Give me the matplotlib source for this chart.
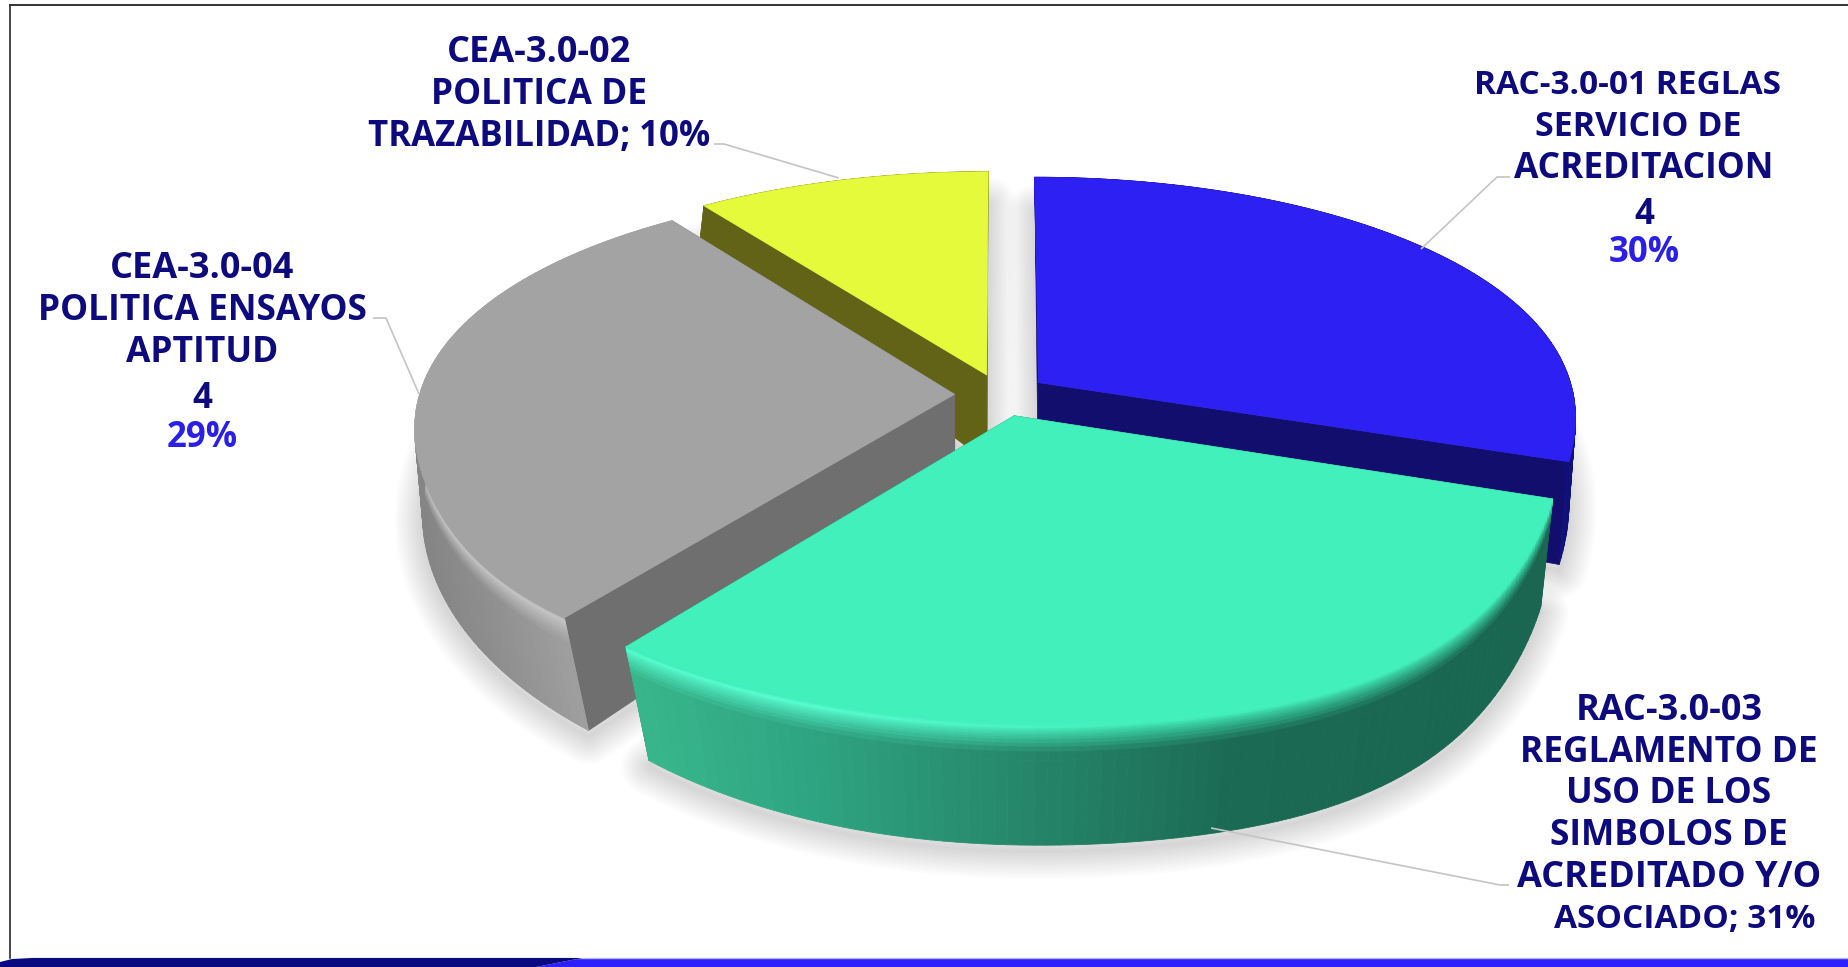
import numpy as np
import matplotlib
matplotlib.use("Agg")
import matplotlib.pyplot as plt
from matplotlib.collections import PolyCollection
from matplotlib.colors import to_rgb

plt.rcParams['font.family'] = ['Open Sans', 'DejaVu Sans']

categories = ["RAC-3.0-01 REGLAS SERVICIO DE ACREDITACION",
              "RAC-3.0-03 REGLAMENTO DE USO DE LOS SIMBOLOS DE ACREDITADO Y/O ASOCIADO",
              "CEA-3.0-04 POLITICA ENSAYOS APTITUD",
              "CEA-3.0-02 POLITICA DE TRAZABILIDAD"]
values = [30, 31, 29, 10]

top_colors = ["#2c20f2", "#42f0bb", "#a3a3a3", "#e6fa3c"]
wall_colors = ["#120e6e", "#1c6e55", "#6f6f6f", "#636318"]
rim_colors = ["#3a30ff", "#58ffd2", "#c6c6c6", "#eeff70"]
side_stops = [
    ([1400, 1580], ["#10107a", "#10107a"]),
    ([640, 800, 1000, 1240, 1560], ["#38b58b", "#2fa582", "#278a6c", "#1b6a53", "#1a6650"]),
    ([420, 480, 580], ["#858585", "#8f8f8f", "#a2a2a2"]),
    ([680, 980], ["#636318", "#636318"]),
]

# label lines: text, x, y, colour key, font size
label_lines = [
    ("CEA-3.0-02", 539, 53, "n", 26), ("POLITICA DE", 539, 95, "n", 25.5), ("TRAZABILIDAD; 10%", 539, 137, "n", 25),
    ("CEA-3.0-04", 202, 269, "n", 26), ("POLITICA ENSAYOS", 202, 311, "n", 25.5), ("APTITUD", 202, 353, "n", 25.5),
    ("4", 202, 399, "n", 25), ("29%", 202, 438, "b", 25),
    ("RAC-3.0-01 REGLAS", 1627, 85, "n", 24), ("SERVICIO DE", 1638, 127, "n", 24.5), ("ACREDITACION", 1644, 169, "n", 25.5),
    ("4", 1644, 215, "n", 25), ("30%", 1644, 253, "b", 25),
    ("RAC-3.0-03", 1669, 711, "n", 26), ("REGLAMENTO DE", 1669, 753, "n", 25.5), ("USO DE LOS", 1669, 794, "n", 25.5),
    ("SIMBOLOS DE", 1669, 836, "n", 25.5), ("ACREDITADO Y/O", 1669, 878, "n", 26), ("ASOCIADO; 31%", 1685, 919, "n", 24),
]
leaders = [
    ([1510, 1497, 1421], [177, 177, 249]),
    ([1509, 1500, 1211], [885, 885, 828]),
    ([373, 386, 419], [318, 318, 394]),
    ([714, 724, 839], [144, 144, 178]),
]

CX = 1001
TOP = dict(cy=395, A=535, B=245, k=0.1735, kx=0.12)
BOT = dict(cy=486, A=530, B=294, k=0.10, kx=0.09)
EXPLODE = 0.087


def proj(X, Y, p):
    s = 1 / (1 - p['k'] * Y)
    sx = 1 / (1 - p['kx'] * Y)
    return CX + p['A'] * X * sx, p['cy'] + p['B'] * Y * s


fig = plt.figure(figsize=(18.49, 9.67), dpi=100, facecolor="white")
ax = fig.add_axes([0, 0, 1, 1])
ax.set_xlim(0, 1849)
ax.set_ylim(967, 0)
ax.axis("off")

fracs = np.array(values) / sum(values)
ends = 90 - 360 * np.cumsum(fracs)
starts = ends + 360 * fracs

geo = []
for st, en in zip(starts, ends):
    mid = np.radians((st + en) / 2)
    ex, ey = EXPLODE * np.cos(mid), -EXPLODE * np.sin(mid)
    deg = np.linspace(st, en, 90)
    th = np.radians(deg)
    # the reference's disc is slightly rounder than a true ellipse at the front
    wrapped = (deg + 180) % 360 - 180
    r_bot = 1 + 0.055 * np.exp(-((wrapped + 52) / 24) ** 2)
    r_top = r_bot + 0.025 * np.exp(-((wrapped + 135) / 20) ** 2)
    geo.append((ex, ey,
                ex + r_top * np.cos(th), ey - r_top * np.sin(th),
                ex + r_bot * np.cos(th), ey - r_bot * np.sin(th)))

# soft shadows
for ex, ey, _, _, bx_, by_ in geo:
    bx, by = proj(np.r_[ex, bx_], np.r_[ey, by_], BOT)
    for lw in range(40, 0, -3):
        ax.fill(bx, by + 6, facecolor="none", edgecolor=(0, 0, 0, 0.011), lw=lw,
                joinstyle="round", zorder=1)

# painter's order: back to front
order = [3, 0, 2, 1]
z = 2
tv = np.r_[0, .012, .025, .04, .055, .07, .09, .11, .13, .16, .19, .23, .30, 1.0]
for i in order:
    ex, ey, ox, oy, ux, uy = geo[i]
    # radial walls
    for j in (0, -1):
        tx, ty = proj(np.array([ex, ox[j]]), np.array([ey, oy[j]]), TOP)
        bx, by = proj(np.array([ex, ux[j]]), np.array([ey, uy[j]]), BOT)
        ax.fill(np.r_[tx, bx[::-1]], np.r_[ty, by[::-1]], color=wall_colors[i], lw=0.5, zorder=z)
    z += 1
    # outer wall with bands
    tx, ty = proj(ox, oy, TOP)
    bx, by = proj(ux, uy, BOT)
    xs, cols = side_stops[i]
    rgb = np.array([to_rgb(c) for c in cols])
    polys, fc = [], []
    for a in range(len(ox) - 1):
        xm = (tx[a] + tx[a + 1]) / 2
        base = np.array([np.interp(xm, xs, rgb[:, c]) for c in range(3)])
        topc = np.array(to_rgb(top_colors[i]))
        rim = np.array(to_rgb(rim_colors[i]))
        # the bevel is bright on the lit left/front side and fades out to the right
        lit = np.clip((1150 - xm) / 350, 0, 1)
        rimc = topc + (rim - topc) * lit
        for b in range(len(tv) - 1):
            t0, t1 = tv[b], tv[b + 1]
            polys.append([(tx[a] + (bx[a] - tx[a]) * t0, ty[a] + (by[a] - ty[a]) * t0),
                          (tx[a + 1] + (bx[a + 1] - tx[a + 1]) * t0, ty[a + 1] + (by[a + 1] - ty[a + 1]) * t0),
                          (tx[a + 1] + (bx[a + 1] - tx[a + 1]) * t1, ty[a + 1] + (by[a + 1] - ty[a + 1]) * t1),
                          (tx[a] + (bx[a] - tx[a]) * t1, ty[a] + (by[a] - ty[a]) * t1)])
            tm = (t0 + t1) / 2
            if i in (1, 2):
                if tm < .03:
                    c = topc + (rimc - topc) * (tm / .03)
                elif tm < .24:
                    c = rimc + (base - rimc) * ((tm - .03) / .21) ** 0.8
                else:
                    c = base
            else:
                c = base
            fc.append(c)
    pc = PolyCollection(polys, facecolors=fc, edgecolors=fc, linewidths=0.6, zorder=z)
    ax.add_collection(pc)
    z += 1
    # top face
    fx, fy = proj(np.r_[ex, ox], np.r_[ey, oy], TOP)
    ax.fill(fx, fy, color=top_colors[i], lw=0.5, zorder=z)
    z += 1

# leader lines
for lx, ly in leaders:
    ax.plot(lx, ly, color="#c4c4c4", lw=1.2, zorder=z, solid_capstyle="butt")

# labels
colmap = {"n": "#0d0a7e", "b": "#2a1fe8"}
for txt, x, y, key, fs in label_lines:
    ax.text(x, y, txt, ha="center", va="center", fontsize=fs, fontweight="bold",
            color=colmap[key], zorder=z + 1)

# frame and bottom bar
ax.plot([9.5, 9.5], [5, 958], color="#2a2a2a", lw=1.2, zorder=z + 2)
ax.plot([9.5, 1849], [5, 5], color="#333333", lw=1.4, zorder=z + 2)
ax.fill([536, 582, 1849, 1849], [967, 958, 958, 967], color="#2d20ff", lw=0, zorder=z + 2)
ax.fill([0, 12, 32, 582, 536, 0], [962, 959, 958, 958, 967, 967], color="#0a0a80", lw=0, zorder=z + 3)
ax.plot([30, 1849], [957.5, 957.5], color="#b9b9e8", lw=1, zorder=z + 2)

fig.savefig("out.png", dpi=100, facecolor="white")
